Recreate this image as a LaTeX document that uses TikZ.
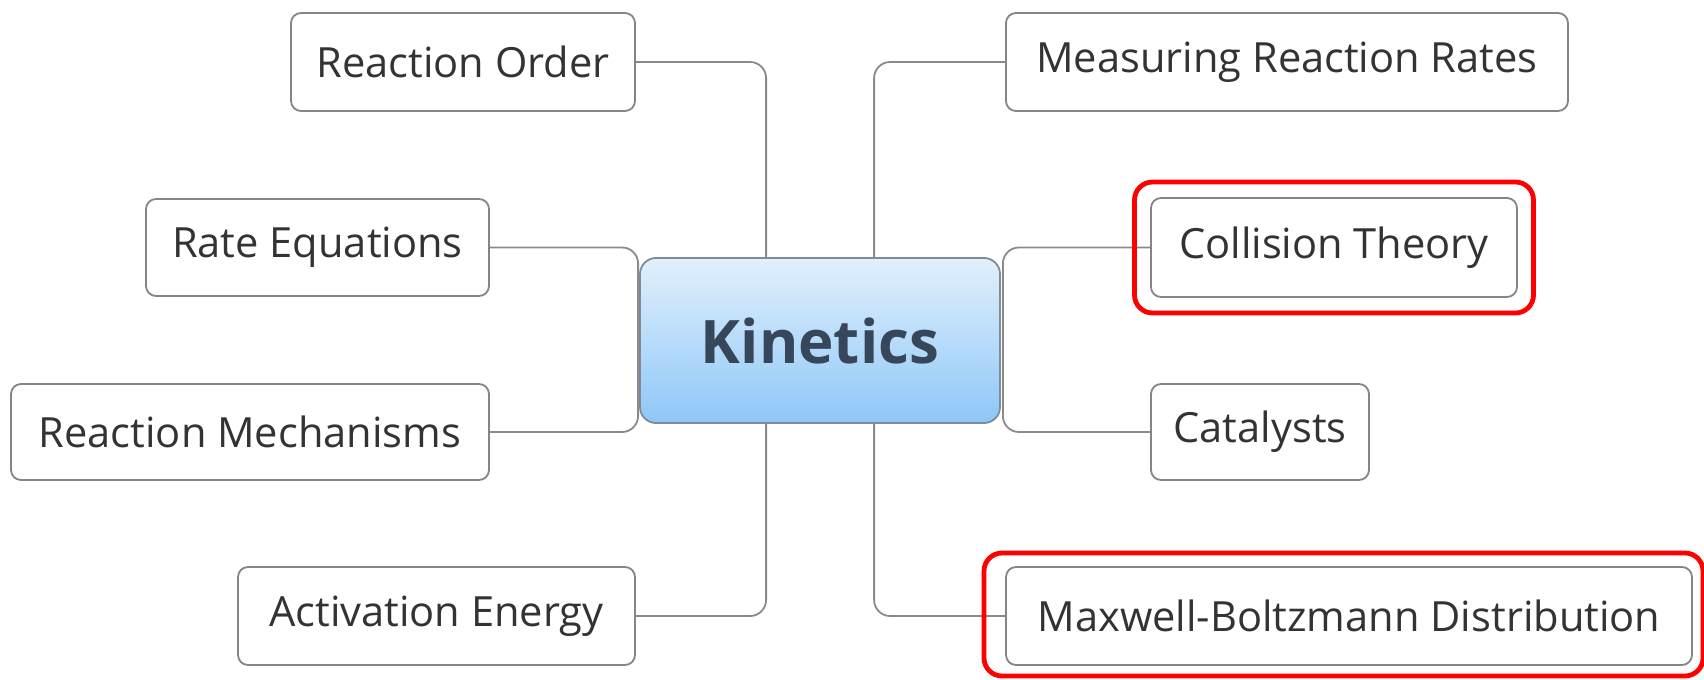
\documentclass[tikz,border=0pt]{standalone}
\usepackage{fontspec}
\setmainfont{Open Sans}
\usetikzlibrary{calc,backgrounds}
\definecolor{boxline}{HTML}{858585}
\definecolor{linkline}{HTML}{8A8A8A}
\definecolor{txt}{HTML}{333333}
\definecolor{hubtxt}{HTML}{37475A}
\definecolor{hubtop}{HTML}{E2F0FC}
\definecolor{hubbot}{HTML}{8EC7F8}
\definecolor{hubline}{HTML}{7E8B98}
\definecolor{mark}{HTML}{FF0000}
\tikzset{
  topic/.style={draw=boxline, line width=0.9pt, rounded corners=5pt, fill=white,
    text=txt, font=\fontsize{20.8}{24}\selectfont, inner sep=0pt, anchor=center},
  hub/.style={draw=hubline, line width=0.9pt, rounded corners=8pt,
    top color=hubtop, bottom color=hubbot,
    text=hubtxt, font=\fontsize{30}{34}\selectfont\bfseries, inner sep=0pt},
  link/.style={draw=linkline, line width=0.9pt, rounded corners=8pt},
  highlight/.style={draw=mark, line width=2.4pt, rounded corners=9pt}
}
\begin{document}
\begin{tikzpicture}[x=0.5pt, y=-0.5pt]
\useasboundingbox (0,0) rectangle (1704,680);

% central topic
\node[hub, minimum width=180pt, minimum height=82.5pt] (kin) at (820,340.5) {Kinetics};

% subtopics
\node[topic, minimum width=172pt, minimum height=49pt] (ro) at (463,62) {Reaction Order};
\node[topic, minimum width=171.5pt, minimum height=48.5pt] (re) at (317.5,247.5) {Rate Equations};
\node[topic, minimum width=239pt, minimum height=48pt] (rm) at (250,432) {Reaction Mechanisms};
\node[topic, minimum width=198.5pt, minimum height=49pt] (ae) at (436.5,616) {Activation Energy};
\node[topic, minimum width=281pt, minimum height=49pt] (mr) at (1287,62) {Measuring Reaction Rates};
\node[topic, minimum width=183pt, minimum height=49.5pt] (ct) at (1334,247.5) {Collision Theory};
\node[topic, minimum width=109pt, minimum height=48pt] (ca) at (1260,432) {Catalysts};
\node[topic, minimum width=343pt, minimum height=49pt] (mb) at (1349,616) {Maxwell-Boltzmann Distribution};

% branch junction points
\coordinate (lx) at ($(kin.north west)+(127,0)$);
\coordinate (rx) at ($(kin.north west)+(235,0)$);
\coordinate (lb) at ($(kin.west)+(-1,0)$);
\coordinate (rb) at ($(kin.east)+(2,0)$);

% connectors behind the boxes
\begin{scope}[on background layer]
\path[link] (ro.east) -| (lx |- kin.north);
\path[link] (ae.east) -| (lx |- kin.south);
\path[link] (mr.west) -| (rx |- kin.north);
\path[link] (mb.west) -| (rx |- kin.south);
\path[link] (re.east) -| (lb) |- (rm.east);
\path[link] (ct.west) -| (rb) |- (ca.west);
\end{scope}

% highlight frames
\node[highlight, minimum width=199.5pt, minimum height=65.5pt] (hl1) at (ct) {};
\draw[highlight] (984,553) rectangle (1703,676);
\end{tikzpicture}
\end{document}
